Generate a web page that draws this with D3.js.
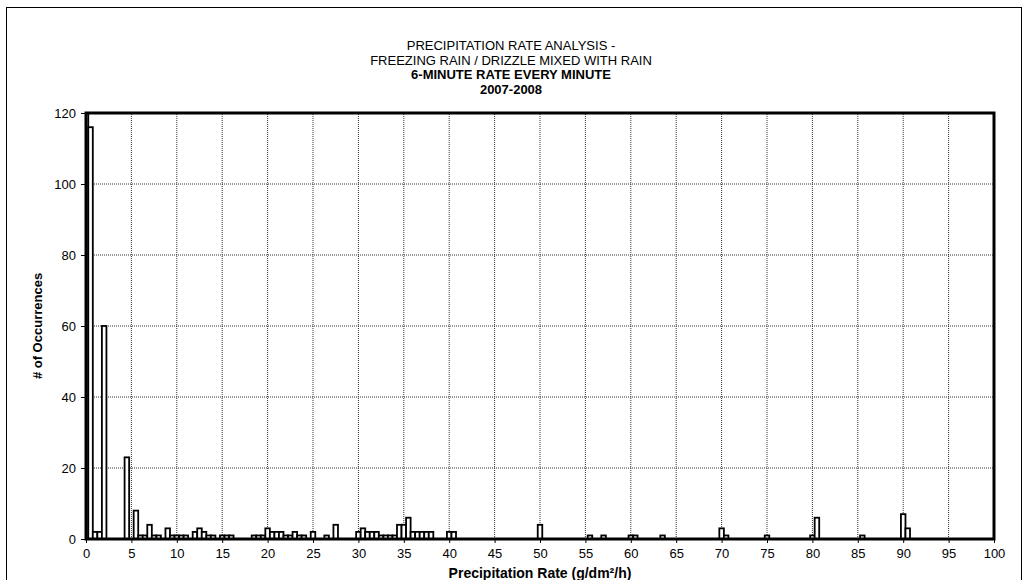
<!DOCTYPE html>
<html>
<head>
<meta charset="utf-8">
<script src="https://cdn.jsdelivr.net/npm/d3@7"></script>
<style>
  body { margin: 0; background: #fff; }
  svg { display: block; font-family: "Liberation Sans", Arial, sans-serif; }
</style>
</head>
<body>
<div id="chart"></div>
<script>
// precipitation rate bins (g/dm²/h), bin width 0.5
const rates = [0, 0.5, 1, 1.5, 2, 4.5, 5.5, 6, 6.5, 7, 7.5, 8, 9, 9.5, 10, 10.5, 11,
  12, 12.5, 13, 13.5, 14, 15, 15.5, 16, 18.5, 19, 19.5, 20, 20.5, 21, 21.5, 22, 22.5,
  23, 23.5, 24, 25, 26.5, 27.5, 30, 30.5, 31, 31.5, 32, 32.5, 33, 33.5, 34, 34.5, 35,
  35.5, 36, 36.5, 37, 37.5, 38, 40, 40.5, 50, 55.5, 57, 60, 60.5, 63.5, 70, 70.5, 75,
  80, 80.5, 85.5, 90, 90.5];
const counts = [125, 116, 2, 2, 60, 23, 8, 1, 1, 4, 1, 1, 3, 1, 1, 1, 1,
  2, 3, 2, 1, 1, 1, 1, 1, 1, 1, 1, 3, 2, 2, 2, 1, 1,
  2, 1, 1, 2, 1, 4, 2, 3, 2, 2, 2, 1, 1, 1, 1, 4, 4,
  6, 2, 2, 2, 2, 2, 2, 2, 4, 1, 1, 1, 1, 1, 3, 1, 1,
  1, 6, 1, 7, 3];
const binWidth = 0.5;
const xTicks = d3.range(0, 101, 5);
const yTicks = [0, 20, 40, 60, 80, 100, 120];
const titleLines = [
  { text: "PRECIPITATION RATE ANALYSIS -", bold: false },
  { text: "FREEZING RAIN / DRIZZLE MIXED WITH RAIN", bold: false },
  { text: "6-MINUTE RATE EVERY MINUTE", bold: true },
  { text: "2007-2008", bold: true }
];

const width = 1028, height = 580;
const margin = { top: 113, right: 34, bottom: 41, left: 86 };

const svg = d3.select("#chart").append("svg")
  .attr("width", width)
  .attr("height", height);

// outer chart border
svg.append("rect")
  .attr("x", 6.5).attr("y", 7.5)
  .attr("width", 1015).attr("height", 600)
  .attr("fill", "none")
  .attr("stroke", "#000")
  .attr("stroke-width", 1);

const x = d3.scaleLinear().domain([0, 100]).range([margin.left, width - margin.right]);
const y = d3.scaleLinear().domain([0, 120]).range([height - margin.bottom, margin.top]);

// grid
svg.append("g").selectAll("line.vg")
  .data(xTicks.slice(1, -1))
  .join("line")
  .attr("x1", d => x(d)).attr("x2", d => x(d))
  .attr("y1", y(0)).attr("y2", y(120))
  .attr("stroke", "#333").attr("stroke-width", 1)
  .attr("stroke-dasharray", "1,1");

svg.append("g").selectAll("line.hg")
  .data(yTicks.slice(1, -1))
  .join("line")
  .attr("x1", x(0)).attr("x2", x(100))
  .attr("y1", d => y(d)).attr("y2", d => y(d))
  .attr("stroke", "#333").attr("stroke-width", 1)
  .attr("stroke-dasharray", "1,1");

// bars
svg.append("clipPath").attr("id", "plot-clip")
  .append("rect")
  .attr("x", x(0)).attr("y", y(120))
  .attr("width", x(100) - x(0)).attr("height", y(0) - y(120));

const data = rates.map((r, i) => ({ rate: r, count: counts[i] }));

svg.append("g")
  .attr("clip-path", "url(#plot-clip)")
  .selectAll("rect")
  .data(data)
  .join("rect")
  .attr("x", d => x(d.rate - binWidth / 2))
  .attr("y", d => y(d.count))
  .attr("width", x(binWidth) - x(0))
  .attr("height", d => y(0) - y(d.count))
  .attr("fill", "#fff")
  .attr("stroke", "#000")
  .attr("stroke-width", 1.8);

// axes
const xAxis = svg.append("g")
  .attr("transform", `translate(0,${y(0)})`)
  .call(d3.axisBottom(x).tickValues(xTicks).tickSize(4).tickPadding(6));
const yAxis = svg.append("g")
  .attr("transform", `translate(${x(0)},0)`)
  .call(d3.axisLeft(y).tickValues(yTicks).tickSize(5).tickPadding(5));

[xAxis, yAxis].forEach(ax => {
  ax.select(".domain").remove();
  ax.selectAll(".tick line").attr("stroke", "#000").attr("stroke-width", 1);
  ax.selectAll(".tick text")
    .attr("fill", "#000")
    .style("font-size", "13px");
});

// plot frame
svg.append("rect")
  .attr("x", x(0)).attr("y", y(120))
  .attr("width", x(100) - x(0)).attr("height", y(0) - y(120))
  .attr("fill", "none")
  .attr("stroke", "#000")
  .attr("stroke-width", 3);

// titles
svg.append("g").selectAll("text")
  .data(titleLines)
  .join("text")
  .attr("x", 511)
  .attr("y", (d, i) => 50 + i * 14.7)
  .attr("text-anchor", "middle")
  .style("font-size", "13px")
  .style("font-weight", d => d.bold ? "bold" : "normal")
  .text(d => d.text);

svg.append("text")
  .attr("x", (x(0) + x(100)) / 2)
  .attr("y", 578)
  .attr("text-anchor", "middle")
  .style("font-size", "14px")
  .style("font-weight", "bold")
  .text("Precipitation Rate (g/dm²/h)");

svg.append("text")
  .attr("transform", `translate(42,${(y(0) + y(120)) / 2}) rotate(-90)`)
  .attr("text-anchor", "middle")
  .style("font-size", "13px")
  .style("font-weight", "bold")
  .text("# of Occurrences");
</script>
</body>
</html>
